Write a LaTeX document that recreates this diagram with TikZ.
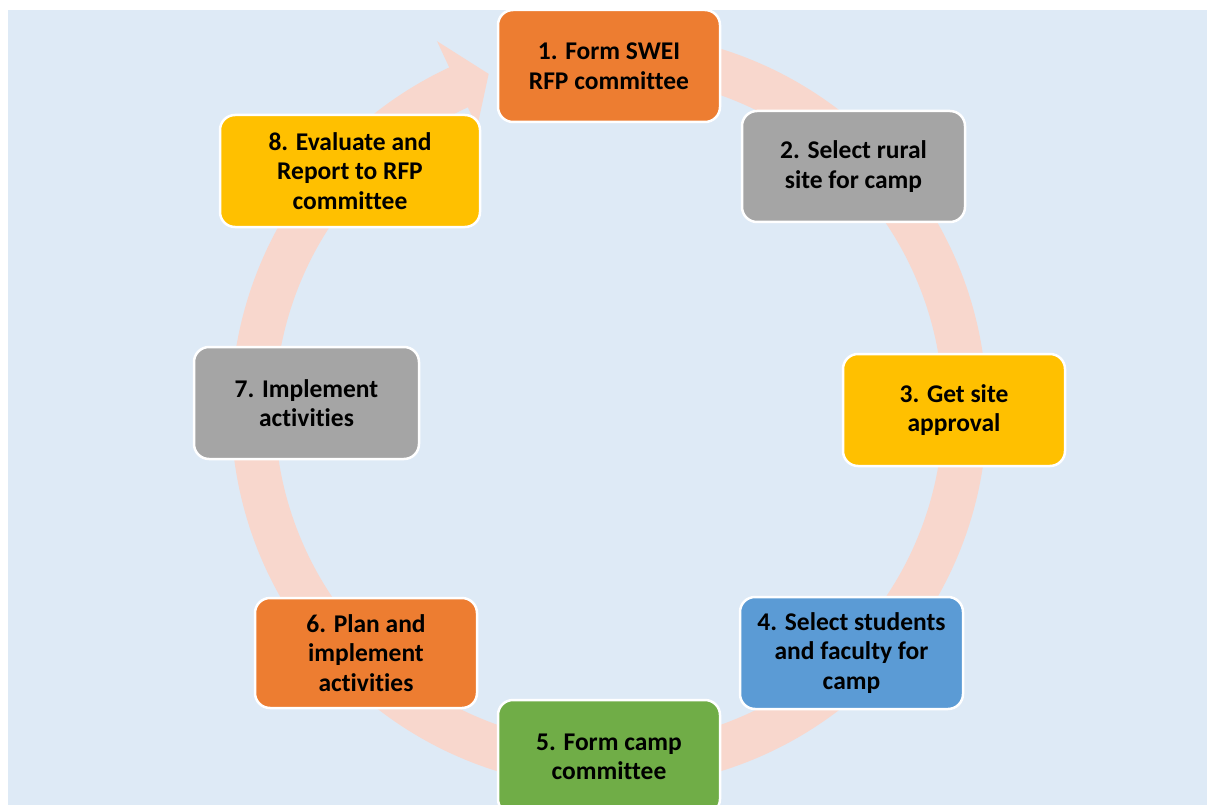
\documentclass[tikz,border=0pt]{standalone}
\usepackage{fontspec}
\setmainfont{Carlito}[Ligatures=CommonOff]
\definecolor{bgblue}{HTML}{DEEAF6}
\definecolor{ringc}{HTML}{F8D7CD}
\definecolor{corange}{HTML}{ED7D31}
\definecolor{cgray}{HTML}{A5A5A5}
\definecolor{cgold}{HTML}{FFC000}
\definecolor{cblue}{HTML}{5B9BD5}
\definecolor{cgreen}{HTML}{70AD47}
\tikzset{
  stepbox/.style={draw=white, line width=2.5pt, rounded corners=15pt, align=center,
    inner sep=0pt, text=black,
    font=\fontsize{25.5pt}{29.5pt}\selectfont\bfseries},
}
\begin{document}
\begin{tikzpicture}[x=1pt, y=-1pt]
\useasboundingbox (0,0) rectangle (1207,805);
\clip (0,0) rectangle (1207,805);
\fill[white] (0,0) rectangle (1207,805);
\fill[bgblue] (8,10) rectangle (1207,805);
% ring arrow
\begin{scope}[shift={(609,410)}, x=1pt, y=1pt]
\fill[ringc] (97:378) arc[start angle=97, end angle=-245, radius=378]
  -- (-245:407) -- (-250.3:357) -- (-245:312) -- (-245:334)
  arc[start angle=-245, end angle=97, radius=334] -- cycle;
\end{scope}
% boxes
\node[stepbox, fill=corange, minimum width=222pt, minimum height=112pt] (n1) at (609,66) {1. Form SWEI\\RFP committee};
\node[stepbox, fill=cgray, minimum width=223pt, minimum height=111pt] (n2) at (853.5,166.5) {2. Select rural\\site for camp};
\node[stepbox, fill=cgold, minimum width=222pt, minimum height=112pt] (n3) at (954,410) {3. Get site\\approval};
\node[stepbox, fill=cblue, minimum width=223pt, minimum height=112pt] (n4) at (851.5,653) {4. Select students\\and faculty for\\camp};
\node[stepbox, fill=cgreen, minimum width=222pt, minimum height=114pt] (n5) at (609,757) {5. Form camp\\committee};
\node[stepbox, fill=corange, minimum width=222pt, minimum height=110pt] (n6) at (366,653) {6. Plan and\\implement\\activities};
\node[stepbox, fill=cgray, minimum width=225pt, minimum height=112pt] (n7) at (306.5,403) {7. Implement\\activities};
\node[stepbox, fill=cgold, minimum width=260pt, minimum height=112pt] (n8) at (350,171) {8. Evaluate and\\Report to RFP\\committee};
\end{tikzpicture}
\end{document}
